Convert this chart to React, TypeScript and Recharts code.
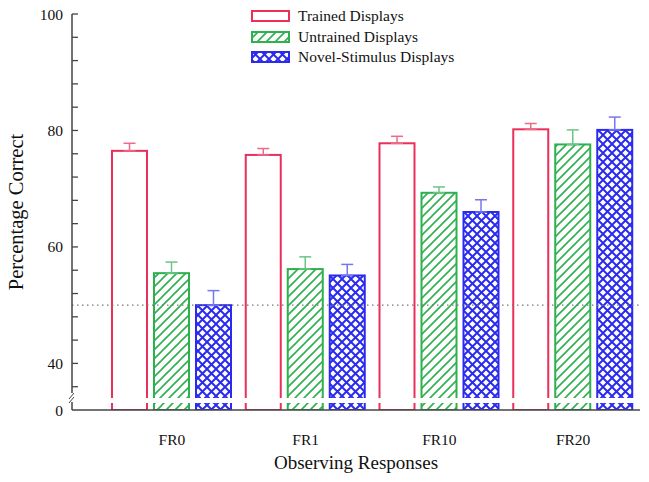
import { BarChart, Bar, XAxis, YAxis, ErrorBar, ReferenceLine } from 'recharts';

const categories = ['FR0', 'FR1', 'FR10', 'FR20'];
const trained = [76.5, 75.8, 77.8, 80.2];
const trainedErr = [1.3, 1.1, 1.2, 1.0];
const untrained = [55.5, 56.2, 69.3, 77.6];
const untrainedErr = [1.9, 2.1, 1.0, 2.5];
const novel = [50.0, 55.1, 66.0, 80.1];
const novelErr = [2.5, 1.9, 2.1, 2.2];

// y axis is broken: the bottom of the domain is labelled 0
const Y_MIN = 32;
const yTicks = [32, 36, 40, 44, 48, 52, 56, 60, 64, 68, 72, 76, 80, 84, 88, 92, 96, 100];
const yLabels: Record<number, string> = { 32: '0', 40: '40', 60: '60', 80: '80', 100: '100' };

const data = categories.map((name, i) => ({
  name,
  trained: trained[i],
  trainedErr: [0, trainedErr[i]],
  untrained: untrained[i],
  untrainedErr: [0, untrainedErr[i]],
  novel: novel[i],
  novelErr: [0, novelErr[i]],
}));

const FONT = "'Liberation Serif', 'Times New Roman', serif";
const RED = '#ea2f5b';
const GREEN = '#2eb04f';
const BLUE = '#2b2bef';
const AXIS = '#444';

const series = [
  { key: 'trained', name: 'Trained Displays', color: RED, err: '#f06a88', fill: 'none' },
  { key: 'untrained', name: 'Untrained Displays', color: GREEN, err: '#6cc485', fill: 'url(#hatch)' },
  { key: 'novel', name: 'Novel-Stimulus Displays', color: BLUE, err: '#7676f2', fill: 'url(#cross)' },
];

function BrokenBar(props: any) {
  const { x, y, width, height, fill, stroke } = props;
  if (height == null || height <= 0) return null;
  const bottom = y + height;
  return (
    <g>
      <rect x={x} y={y} width={width} height={height} fill={fill} stroke={stroke} strokeWidth={2} />
      <rect x={x - 2} y={bottom - 12} width={width + 4} height={5} fill="#fff" />
    </g>
  );
}

function YTick(props: any) {
  const { x, y, payload } = props;
  const v = payload.value;
  const ax = x + 9;
  const label = yLabels[v];
  return (
    <g>
      {v !== Y_MIN && <line x1={ax} y1={y} x2={ax + 6} y2={y} stroke={AXIS} strokeWidth={1.3} />}
      {label && (
        <text x={x} y={y} textAnchor="end" dominantBaseline="central" fontSize={15.5} fontFamily={FONT} fill="#111">
          {label}
        </text>
      )}
      {v === Y_MIN && (
        <g>
          <rect x={ax - 4} y={y - 17} width={8} height={9} fill="#fff" />
          <line x1={ax - 3} y1={y - 11} x2={ax + 2} y2={y - 17} stroke={AXIS} strokeWidth={1} />
          <line x1={ax - 3} y1={y - 7} x2={ax + 2} y2={y - 13} stroke={AXIS} strokeWidth={1} />
        </g>
      )}
    </g>
  );
}

function LegendBox() {
  return (
    <div
      style={{
        position: 'absolute',
        left: 251,
        top: 6,
        fontFamily: FONT,
        fontSize: 15.5,
        color: '#111',
        lineHeight: '20.5px',
      }}
    >
      {series.map((s) => (
        <div key={s.key} style={{ display: 'flex', alignItems: 'center', whiteSpace: 'nowrap' }}>
          <svg width={40} height={14} style={{ marginRight: 7 }}>
            <rect x={1} y={2} width={37} height={10} fill={s.fill} stroke={s.color} strokeWidth={2} />
          </svg>
          <span>{s.name}</span>
        </div>
      ))}
    </div>
  );
}

export default function App() {
  return (
    <div style={{ position: 'absolute', left: 0, top: 0, width: 649, height: 482, background: '#fff' }}>
      <BarChart
        width={649}
        height={482}
        data={data}
        margin={{ top: 14, right: 9, bottom: 12, left: 0 }}
        barSize={35}
        barGap={7}
      >
        <defs>
          <pattern id="hatch" patternUnits="userSpaceOnUse" width={9} height={9}>
            <path d="M-2,2 L2,-2 M0,9 L9,0 M7,11 L11,7" stroke={GREEN} strokeWidth={1.6} />
          </pattern>
          <pattern id="cross" patternUnits="userSpaceOnUse" width={9} height={9}>
            <path d="M0,0 L9,9 M9,0 L0,9" stroke={BLUE} strokeWidth={2} />
          </pattern>
        </defs>
        <XAxis
          dataKey="name"
          height={60}
          padding={{ left: 33, right: 0 }}
          tickLine={false}
          tickSize={0}
          tickMargin={24}
          axisLine={{ stroke: AXIS, strokeWidth: 1.5 }}
          tick={{ fontSize: 15.5, fontFamily: FONT, fill: '#111' }}
          label={{ value: 'Observing Responses', position: 'insideBottom', offset: 1, fontSize: 19, fontFamily: FONT, fill: '#111' }}
        />
        <YAxis
          type="number"
          domain={[Y_MIN, 100]}
          ticks={yTicks}
          allowDataOverflow
          interval={0}
          width={72}
          tickLine={false}
          tickSize={0}
          tickMargin={9}
          axisLine={{ stroke: AXIS, strokeWidth: 1.5 }}
          tick={(p: any) => <YTick {...p} />}
          label={{ value: 'Percentage Correct', angle: -90, position: 'insideLeft', offset: 16, fontSize: 20.5, fontFamily: FONT, fill: '#111', style: { textAnchor: 'middle' } }}
        />
        <ReferenceLine y={50} stroke="#777" strokeDasharray="1.5 3.5" strokeWidth={1.2} />
        {series.map((s) => (
          <Bar
            key={s.key}
            dataKey={s.key}
            name={s.name}
            fill={s.fill}
            stroke={s.color}
            isAnimationActive={false}
            shape={(p: any) => <BrokenBar {...p} />}
          >
            <ErrorBar dataKey={`${s.key}Err`} width={6} stroke={s.err} strokeWidth={1.5} direction="y" />
          </Bar>
        ))}
      </BarChart>
      <LegendBox />
    </div>
  );
}
